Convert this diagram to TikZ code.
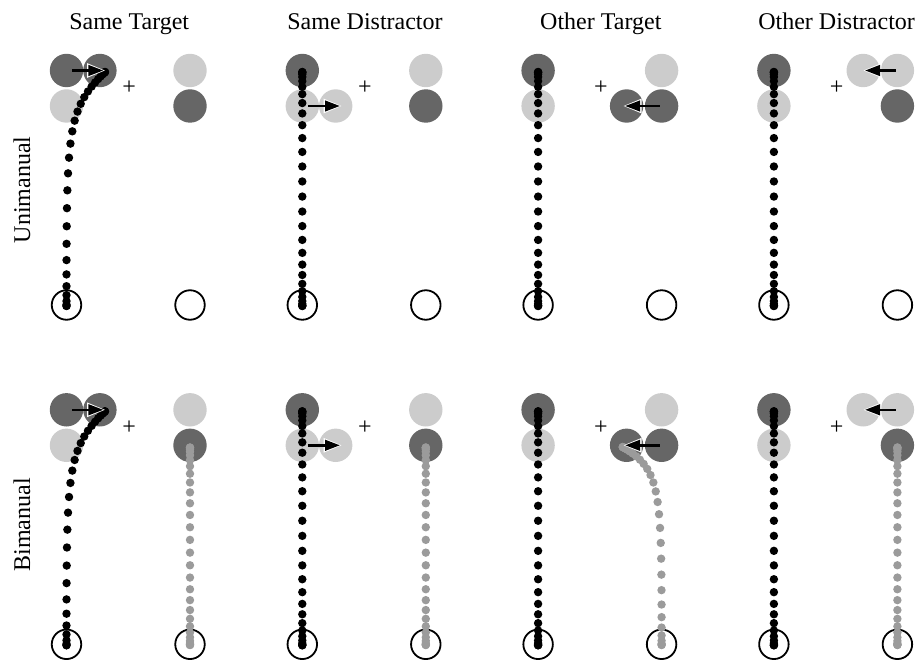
\documentclass[tikz,border=0pt]{standalone}
\usepackage{fontspec}
\setmainfont{Liberation Serif}
\usetikzlibrary{arrows.meta}
\definecolor{dk}{RGB}{102,102,102}
\definecolor{lt}{RGB}{204,204,204}
\definecolor{gr}{RGB}{155,155,155}
\tikzset{
 darkc/.style={circle,fill=dk,minimum size=33.4pt,inner sep=0pt},
 lightc/.style={circle,fill=lt,minimum size=33.4pt,inner sep=0pt},
 startc/.style={circle,draw=black,line width=1.8pt,minimum size=29.5pt,inner sep=0pt},
 dotb/.style={circle,fill=black,minimum size=8.4pt,inner sep=0pt},
 dotg/.style={circle,fill=gr,minimum size=8.4pt,inner sep=0pt},
 lbl/.style={font=\fontsize{24}{28}\selectfont,inner sep=0pt},
 movearrowbg/.style={white,line width=2.6pt,shorten >=-1.6pt,-{Triangle[length=18pt,width=14pt]}},
 movearrow/.style={black,line width=2.6pt,-{Triangle[length=15pt,width=10.5pt]}},
}
\newcommand\trajdots[2]{%
 \foreach \i in {0,...,29}{%
  \pgfmathsetmacro\mytp{\i/29}%
  \pgfmathsetmacro\mys{\mytp*\mytp*\mytp*(10-15*\mytp+6*\mytp*\mytp)}%
  \path #2 node[#1,pos=\mys]{};
 }}
\newcommand\jumparrow[2]{%
  \draw[movearrowbg] #1 -- #2;
  \draw[movearrow] #1 -- #2;}
\begin{document}
\begin{tikzpicture}[x=1pt,y=-1pt]
\useasboundingbox (0,0) rectangle (919,663);
% titles
\foreach \k/\t in {1/Same Target,2/Same Distractor,3/Other Target,4/Other Distractor}{
  \node[lbl,anchor=base] (title\k) at ({129.2+235.8*(\k-1)},29.3) {\t};
}
\node[lbl,rotate=90] (rowlab1) at (22,190) {Unimanual};
\node[lbl,rotate=90] (rowlab2) at (22,525) {Bimanual};
% hands
\foreach \k in {1,...,4}{
 \foreach \r in {1,2}{
  \pgfmathsetmacro\L{66.5+235.8*(\k-1)}
  \pgfmathsetmacro\R{190+235.8*(\k-1)}
  \pgfmathsetmacro\D{339.3*(\r-1)}
  \node[darkc] (lt\k\r) at (\L,70.5+\D) {};
  \node[lightc] (lb\k\r) at (\L,106+\D) {};
  \node[lightc] (rt\k\r) at (\R,70.5+\D) {};
  \node[darkc] (rb\k\r) at (\R,106+\D) {};
  \node[startc] (ls\k\r) at (\L,305+\D) {};
  \node[startc] (rs\k\r) at (\R,305+\D) {};
  \node[lbl] (plus\k\r) at (\L+62.7,88+\D) {+};
 }
}
% extra (jumped) stimuli
\foreach \r in {1,2}{
  \pgfmathsetmacro\D{339.3*(\r-1)}
  \node[darkc] (x1\r) at (99.9,70.5+\D) {};
  \node[lightc] (x2\r) at (335.7,106+\D) {};
  \node[darkc] (x3\r) at (626.6,106+\D) {};
  \node[lightc] (x4\r) at (863.2,70.5+\D) {};
}
% left-hand (black) trajectories
\foreach \r in {1,2}{
  \pgfmathsetmacro\D{339.3*(\r-1)}
  \coordinate (bs1\r) at (66.5,306+\D);
  \coordinate (be1\r) at (105,72+\D);
  \trajdots{dotb}{(bs1\r) .. controls (66.5,130+\D) and (66.5,110+\D) .. (be1\r)}
  \foreach \k in {2,3,4}{
    \pgfmathsetmacro\L{66.5+235.8*(\k-1)}
    \coordinate (bs\k\r) at (\L,306+\D);
    \coordinate (be\k\r) at (\L,72+\D);
    \trajdots{dotb}{(bs\k\r) -- (be\k\r)}
  }
}
% right-hand (grey) trajectories, bimanual only
\foreach \k in {1,2,4}{
  \pgfmathsetmacro\R{190+235.8*(\k-1)}
  \coordinate (gs\k) at (\R,645);
  \coordinate (ge\k) at (\R,447.5);
  \trajdots{dotg}{(gs\k) -- (ge\k)}
}
\coordinate (gs3) at (661.6,645);
\coordinate (ge3) at (622.7,447);
\trajdots{dotg}{(gs3) .. controls (661.6,490) and (661.6,470) .. (ge3)}
% jump arrows
\foreach \r in {1,2}{
  \jumparrow{([xshift=5.3pt]lt1\r.center)}{([xshift=3.5pt]x1\r.center)}
  \jumparrow{([xshift=5.7pt]lb2\r.center)}{([xshift=4.3pt]x2\r.center)}
  \jumparrow{([xshift=-2pt]rb3\r.center)}{([xshift=-1.5pt]x3\r.center)}
  \jumparrow{([xshift=-1.5pt]rt4\r.center)}{([xshift=1.8pt]x4\r.center)}
}
\end{tikzpicture}
\end{document}
